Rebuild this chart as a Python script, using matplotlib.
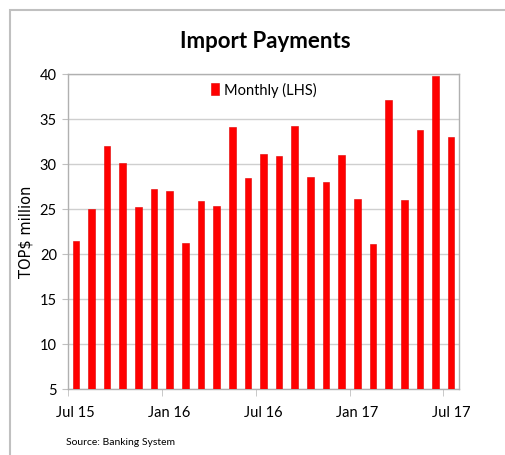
import matplotlib
matplotlib.use("Agg")
import matplotlib.pyplot as plt
from matplotlib.patches import Rectangle

months = ["Jul 15", "Aug 15", "Sep 15", "Oct 15", "Nov 15", "Dec 15",
          "Jan 16", "Feb 16", "Mar 16", "Apr 16", "May 16", "Jun 16",
          "Jul 16", "Aug 16", "Sep 16", "Oct 16", "Nov 16", "Dec 16",
          "Jan 17", "Feb 17", "Mar 17", "Apr 17", "May 17", "Jun 17",
          "Jul 17"]
monthly = [21.4, 24.9, 31.9, 30.1, 25.2, 27.2, 26.9, 21.2, 25.8, 25.3,
           34.1, 28.4, 31.1, 30.8, 34.2, 28.5, 27.9, 30.9, 26.1, 21.1,
           37.1, 26.0, 33.7, 39.7, 32.9]
shown_labels = ["Jul 15", "Jan 16", "Jul 16", "Jan 17", "Jul 17"]
yticks = [5, 10, 15, 20, 25, 30, 35, 40]

plt.rcParams['font.family'] = ['Lato', 'DejaVu Sans']

fig = plt.figure(figsize=(5.06, 4.56), dpi=100)
# outer chart border (right and bottom edges fall outside the picture)
fig.patches.append(Rectangle((10/506, -0.1), 1.2, (456 - 11)/456 + 0.1,
                             transform=fig.transFigure, fill=False,
                             edgecolor="#c0c0c0", linewidth=1.5))

ax = fig.add_axes([68/506, (456 - 389.5)/456, (459 - 68)/506, 315/456])
x = list(range(len(months)))
ax.bar(x, monthly, width=0.42, color="#ff0000", edgecolor="#e00000",
       linewidth=0.4, label="Monthly (LHS)", zorder=3)

ax.set_xlim(-0.5, len(months) - 0.5)
ax.set_ylim(5, 40)
ax.set_yticks(yticks)
ax.tick_params(axis='y', length=4, color="#c0c0c0", labelsize=10.5, pad=4)
ax.grid(axis='y', color="#cfcfcf", linewidth=1, zorder=0)

pos = [months.index(m) for m in shown_labels]
ax.set_xticks(pos)
ax.set_xticklabels(shown_labels)
ax.tick_params(axis='x', length=0, labelsize=10.5, pad=12)
ax.set_xticks([p - 0.5 for p in pos], minor=True)
ax.tick_params(axis='x', which='minor', length=5, color="#c0c0c0")

for s in ax.spines.values():
    s.set_color("#b0b0b0")
    s.set_linewidth(1)

ax.set_ylabel("TOP$ million", fontsize=10.5, family="DejaVu Sans")
ax.yaxis.set_label_coords(-0.088, 0.5)

leg = ax.legend(loc="upper center", frameon=False, fontsize=10.5,
                handlelength=0.6, handleheight=0.9, handletextpad=0.3,
                bbox_to_anchor=(0.5, 1.015))

fig.text(265/506, 1 - 42/456, "Import Payments", ha="center", va="center",
         fontsize=16, fontweight="bold")
fig.text(66/506, 1 - 443/456, "Source: Banking System", ha="left",
         va="center", fontsize=7.5)

fig.savefig("out.png", dpi=100)
